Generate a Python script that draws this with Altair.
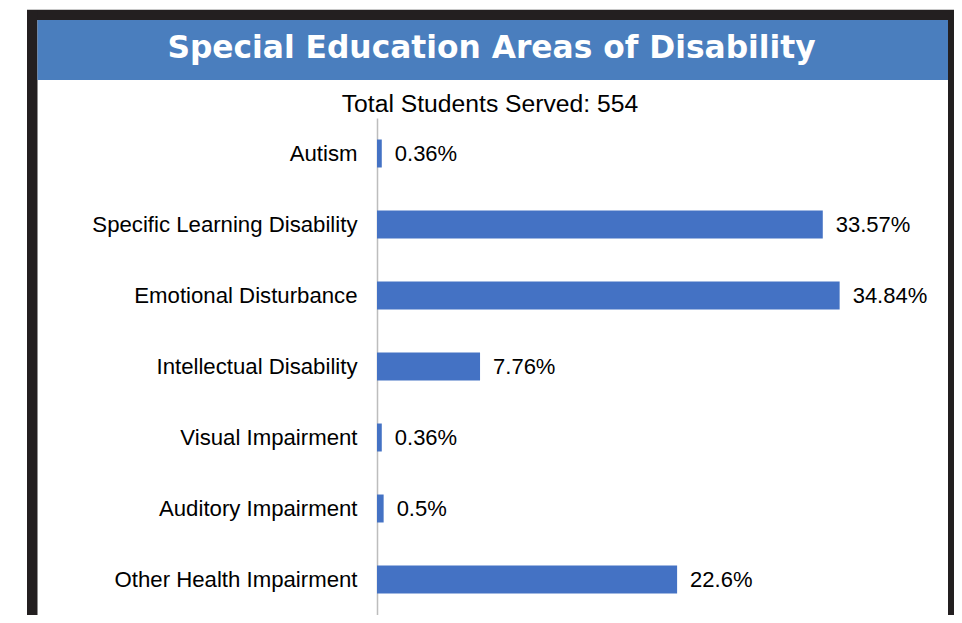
import altair as alt
import pandas as pd

categories = [
    "Autism",
    "Specific Learning Disability",
    "Emotional Disturbance",
    "Intellectual Disability",
    "Visual Impairment",
    "Auditory Impairment",
    "Other Health Impairment",
]
values = [0.36, 33.57, 34.84, 7.76, 0.36, 0.5, 22.6]
value_labels = ["0.36%", "33.57%", "34.84%", "7.76%", "0.36%", "0.5%", "22.6%"]
title_text = "Special Education Areas of Disability"
subtitle_text = "Total Students Served: 554"

df = pd.DataFrame({"cat": categories, "val": values, "lab": value_labels})
one = pd.DataFrame({"k": [0]})

W, H = 571, 497
ysc = alt.Scale(paddingInner=0.606, paddingOuter=0.303)
xsc = alt.Scale(domain=[0, 43])

y_enc = alt.Y("cat:N", sort=categories, scale=ysc,
              axis=alt.Axis(title=None, labelFontSize=22.2, labelFont="Liberation Sans",
                            labelColor="black", labelPadding=20, ticks=False,
                            domainColor="#BDBDBD", domainWidth=1.5, labelLimit=400,
                            grid=False))

bars = alt.Chart(df).mark_bar(color="#4472C4").encode(
    x=alt.X("val:Q", scale=xsc, axis=None),
    y=y_enc,
)

labels = alt.Chart(df).mark_text(
    align="left", baseline="middle", dx=13, fontSize=22,
    font="Liberation Sans", color="black"
).encode(
    x=alt.X("val:Q", scale=xsc, axis=None),
    y=alt.Y("cat:N", sort=categories, scale=ysc),
    text="lab:N",
)

dark = "#231F20"
def rect(x1, x2, y1, y2, color):
    return alt.Chart(one).mark_rect(color=color).encode(
        x=alt.value(x1), x2=alt.value(x2), y=alt.value(y1), y2=alt.value(y2)
    )

thin_top = rect(-350, 583, -109, -108, "#C8C8C8")
frame_top = rect(-350, 582, -108, -98, dark)
frame_left = rect(-350, -339.5, -108, 520, dark)
frame_right = rect(571, 582, -108, 520, dark)
banner = rect(-339.5, 571, -98, -38, "#4A7EBE")

title = alt.Chart(one).mark_text(
    font="DejaVu Sans", fontWeight="bold", fontSize=31.3, color="white",
    align="center", baseline="alphabetic"
).encode(x=alt.value(114.5), y=alt.value(-60.5), text=alt.value(title_text))

subtitle = alt.Chart(one).mark_text(
    font="Liberation Sans", fontSize=24.7, color="black",
    align="center", baseline="alphabetic"
).encode(x=alt.value(113), y=alt.value(-6), text=alt.value(subtitle_text))

chart = alt.layer(
    thin_top, frame_top, frame_left, frame_right, banner, title, subtitle, bars, labels
).properties(
    width=W, height=H,
    autosize=alt.AutoSizeParams(type="none"),
    padding={"left": 369, "top": 110, "right": 6, "bottom": 0},
    background="white",
).configure_view(stroke=None)

chart.save("out.html", embed_options={"renderer": "svg", "actions": False})
